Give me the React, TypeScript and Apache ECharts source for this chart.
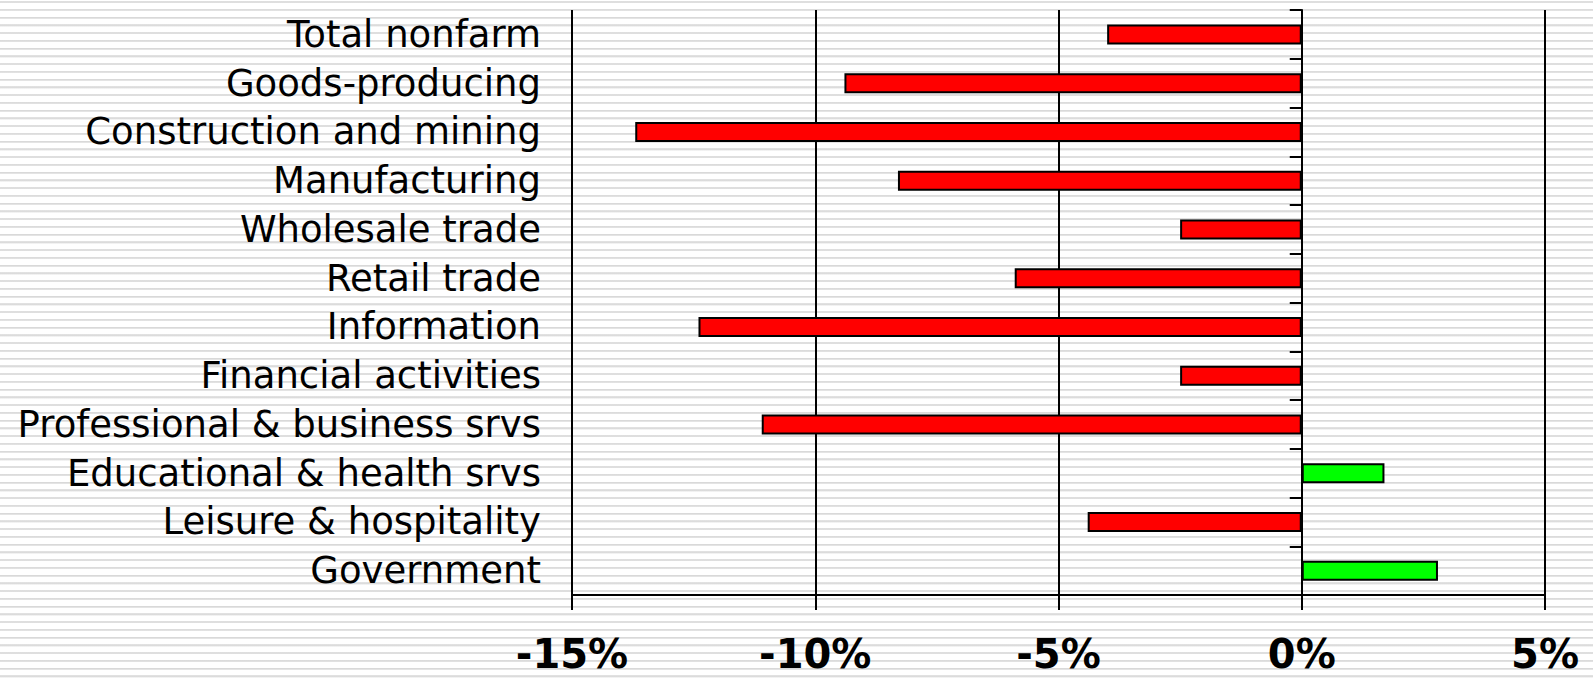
import React, { useEffect, useRef } from "react";
import * as echarts from "echarts";

const categories = [
  "Total nonfarm",
  "Goods-producing",
  "Construction and mining",
  "Manufacturing",
  "Wholesale trade",
  "Retail trade",
  "Information",
  "Financial activities",
  "Professional & business srvs",
  "Educational & health srvs",
  "Leisure & hospitality",
  "Government",
];

const values = [-4.0, -9.4, -13.7, -8.3, -2.5, -5.9, -12.4, -2.5, -11.1, 1.7, -4.4, 2.8];

const xMin = -15;
const xMax = 5;
const xStep = 5;

export default function App() {
  const ref = useRef<HTMLDivElement>(null);
  useEffect(() => {
    document.body.style.margin = "0";
    if (!ref.current) return;
    const chart = echarts.init(ref.current, undefined, { renderer: "svg" });
    const font = "DejaVu Sans";
    chart.setOption({
      animation: false,
      backgroundColor: "transparent",
      grid: { left: 572, right: 48, top: 10, bottom: 83, containLabel: false, outerBoundsMode: "none" },
      xAxis: {
        type: "value",
        min: xMin,
        max: xMax,
        interval: xStep,
        axisLine: { show: true, onZero: false, lineStyle: { color: "#000", width: 2 } },
        axisTick: { show: true, length: 15, lineStyle: { color: "#000", width: 2 } },
        splitLine: { show: true, lineStyle: { color: "#000", width: 2 } },
        axisLabel: {
          formatter: "{value}%",
          fontSize: 40,
          fontWeight: "bold",
          fontFamily: font,
          color: "#000",
          margin: 39,
          lineHeight: 40,
        },
      },
      yAxis: [
        {
          type: "category",
          inverse: true,
          data: categories,
          position: "left",
          axisLine: { show: false, onZero: false },
          axisTick: { show: false },
          splitLine: { show: false },
          axisLabel: {
            interval: 0,
            hideOverlap: false,
            fontSize: 37,
            fontFamily: font,
            color: "#000",
            margin: 31,
          },
        },
        {
          type: "category",
          inverse: true,
          data: categories,
          position: "left",
          axisLine: { show: true, onZero: true, lineStyle: { color: "#000", width: 2 } },
          axisTick: { show: true, interval: 0, length: 12, lineStyle: { color: "#000", width: 2 } },
          splitLine: { show: false },
          axisLabel: { show: false, interval: 0 },
        },
      ],
      series: [
        {
          type: "bar",
          yAxisIndex: 0,
          barWidth: 20,
          data: values.map((v) => ({
            value: v,
            itemStyle: {
              color: v < 0 ? "#ff0000" : "#00ff00",
              borderColor: "#000",
              borderWidth: 2,
            },
          })),
        },
      ],
    });
    return () => chart.dispose();
  }, []);

  return (
    <div
      style={{
        position: "absolute",
        left: 0,
        top: 0,
        width: 1593,
        height: 678,
        background:
          "repeating-linear-gradient(to bottom, #ffffff 0px, #ffffff 1px, #e4e4e4 1px, #d9d9d9 2px, #e4e4e4 3px, #ffffff 3.5px, #ffffff 7.75px)",
      }}
    >
      <div ref={ref} style={{ width: 1593, height: 678 }} />
    </div>
  );
}
